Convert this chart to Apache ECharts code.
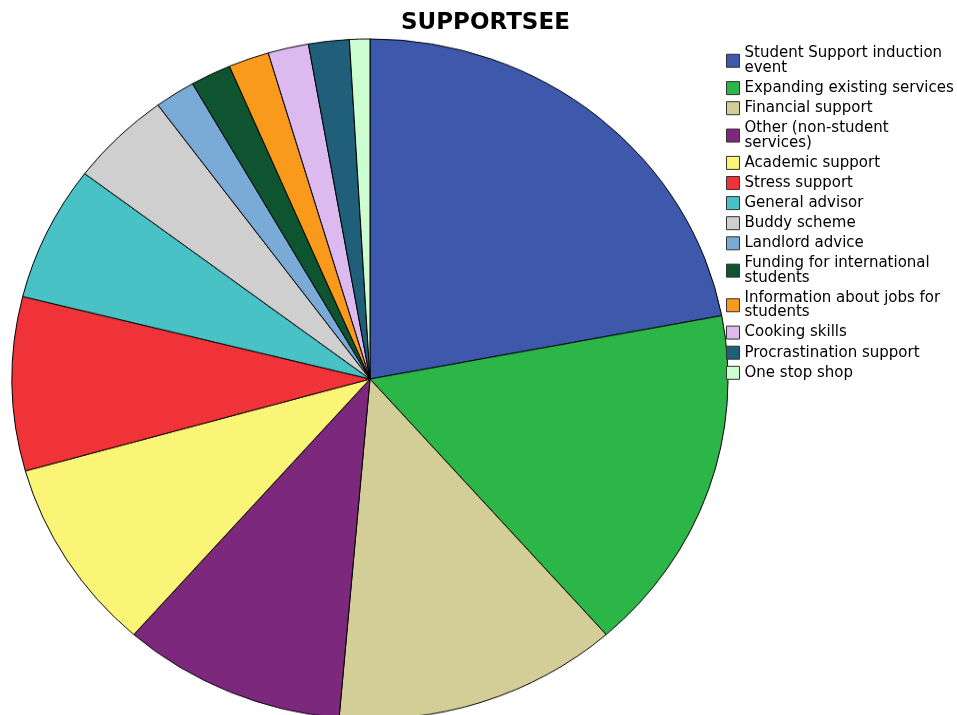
<!DOCTYPE html>
<html><head><meta charset="utf-8">
<script src="https://cdn.jsdelivr.net/npm/echarts@6/dist/echarts.min.js"></script>
<style>
html,body{margin:0;padding:0;background:#fff;overflow:hidden}
#wrap{position:relative;width:957px;height:715px;overflow:hidden}
#p{position:absolute;left:0;top:0;width:957px;height:780px;transform:scaleY(0.95);transform-origin:370px 379px}
#o{position:absolute;left:0;top:0;width:957px;height:715px}
</style>
</head><body><div id="wrap"><div id="p"></div><div id="o"></div></div>
<script>
const titleText = 'SUPPORTSEE';
const categories = [
  'Student Support induction\nevent',
  'Expanding existing services',
  'Financial support',
  'Other (non-student\nservices)',
  'Academic support',
  'Stress support',
  'General advisor',
  'Buddy scheme',
  'Landlord advice',
  'Funding for international\nstudents',
  'Information about jobs for\nstudents',
  'Cooking skills',
  'Procrastination support',
  'One stop shop'
];
const counts = [24, 18, 14, 11, 10, 9, 7, 5, 2, 2, 2, 2, 2, 1];
const colors = ['#3e58ac','#2db648','#d3ce97','#7b287d','#fbf577','#ef3338','#48c2c5','#cfcfcf','#7aaad6','#0e5431','#f99a1d','#dcbaf0','#1f5f79','#ccfdd0'];

const pieData = () => categories.map((c, i) => ({name: c, value: counts[i], itemStyle: {color: colors[i]}}));

// Pie (drawn in a vertically squeezed layer to give the elliptical shape of the original)
const pie = echarts.init(document.getElementById('p'), null, {renderer:'canvas'});
pie.setOption({
  animation: false,
  series: [{
    type: 'pie',
    center: [370, 379],
    radius: 358,
    startAngle: 90,
    clockwise: true,
    label: {show: false},
    labelLine: {show: false},
    emphasis: {disabled: true},
    itemStyle: {borderColor: '#000', borderWidth: 1},
    data: pieData()
  }]
});

// Title and legend overlay
const over = echarts.init(document.getElementById('o'), null, {renderer:'canvas'});
over.setOption({
  animation: false,
  backgroundColor: 'transparent',
  title: {
    text: titleText, left: 396, top: 7,
    textStyle: {fontFamily: 'DejaVu Sans', fontSize: 23, fontWeight: 'bold', color: '#000'}
  },
  legend: {
    orient: 'vertical', left: 721, top: 41,
    itemWidth: 13, itemHeight: 13, itemGap: 5.1,
    icon: 'rect',
    itemStyle: {borderColor: '#333', borderWidth: 1},
    textStyle: {fontFamily: 'DejaVu Sans', fontSize: 15, lineHeight: 14.5, color: '#000'},
    data: categories
  },
  series: [{
    type: 'pie', silent: true,
    center: [-3000, -3000], radius: 1,
    label: {show: false}, labelLine: {show: false},
    data: pieData()
  }]
});
</script></body></html>
